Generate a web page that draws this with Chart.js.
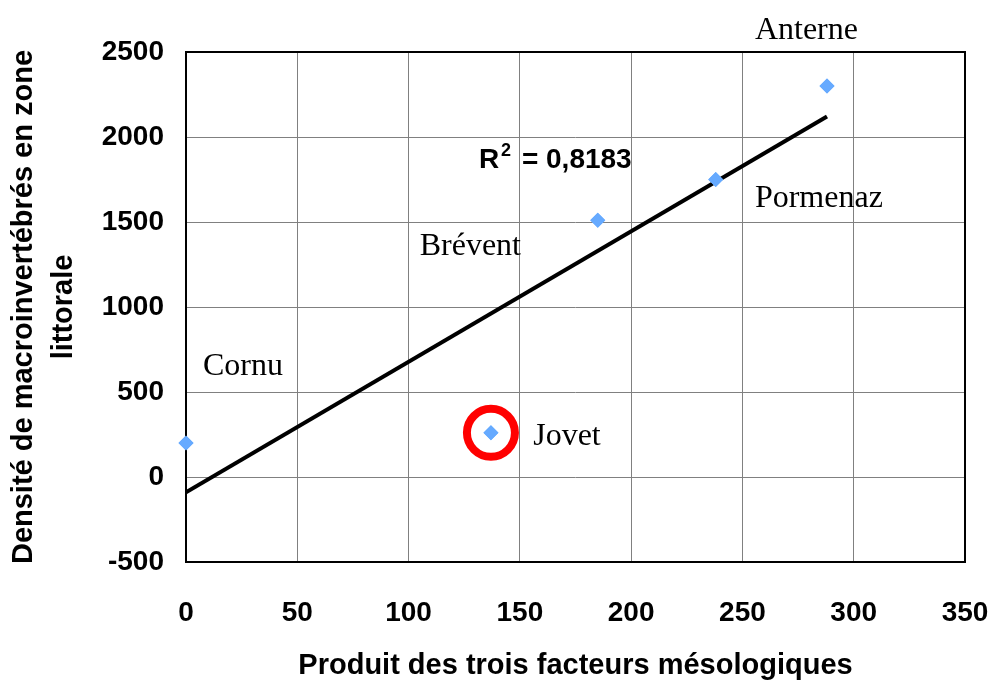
<!DOCTYPE html>
<html>
<head>
<meta charset="utf-8">
<script src="https://cdn.jsdelivr.net/npm/chart.js@4.4.0/dist/chart.umd.min.js"></script>
<style>
  html, body { margin: 0; padding: 0; background: #fff; }
  #wrap { width: 992px; height: 680px; }
</style>
</head>
<body>
<div id="wrap"><canvas id="chart" width="992" height="680"></canvas></div>
<script>
// Sites and measured values
const siteNames = ['Cornu', 'Jovet', 'Brévent', 'Pormenaz', 'Anterne'];
const produitValues = [0, 137, 185, 238, 288];
const densiteValues = [200, 260, 1510, 1750, 2300];

// linear trend line, end points
const trendX = [0, 288];
const trendY = [-90, 2120];
const r2Text = '0,8183';

const xTicks = [0, 50, 100, 150, 200, 250, 300, 350];
const yTicks = [-500, 0, 500, 1000, 1500, 2000, 2500];

// where each site label sits (data coords, left/baseline of text)
const labelSpots = {
    'Cornu':    [7.6, 600],
    'Jovet':    [156, 188],
    'Brévent':  [105, 1306],
    'Pormenaz': [255.6, 1588],
    'Anterne':  [255.6, 2576]
};
const highlighted = 'Jovet';

const pointData = produitValues.map((x, i) => ({ x: x, y: densiteValues[i] }));
const trendData = trendX.map((x, i) => ({ x: x, y: trendY[i] }));

const annotate = {
    id: 'annotate',
    afterDatasetsDraw(chart) {
        const ctx = chart.ctx;
        const xs = chart.scales.x, ys = chart.scales.y;
        const a = chart.chartArea;

        // black frame around the plot
        ctx.save();
        ctx.strokeStyle = '#000';
        ctx.lineWidth = 2;
        ctx.strokeRect(a.left, a.top, a.right - a.left, a.bottom - a.top);

        // site names
        ctx.fillStyle = '#000';
        ctx.font = '32px "Liberation Serif", "Times New Roman", serif';
        ctx.textBaseline = 'alphabetic';
        ctx.textAlign = 'left';
        siteNames.forEach(name => {
            const p = labelSpots[name];
            ctx.fillText(name, xs.getPixelForValue(p[0]), ys.getPixelForValue(p[1]));
        });

        // R² label
        let rx = xs.getPixelForValue(131.6), ry = ys.getPixelForValue(1818);
        ctx.font = 'bold 28px "Liberation Sans", Arial, sans-serif';
        ctx.fillText('R', rx, ry);
        rx += ctx.measureText('R').width + 2;
        ctx.font = 'bold 18px "Liberation Sans", Arial, sans-serif';
        ctx.fillText('2', rx, ry - 12);
        rx += ctx.measureText('2').width + 3;
        ctx.font = 'bold 28px "Liberation Sans", Arial, sans-serif';
        ctx.fillText(' = ' + r2Text, rx, ry);

        // red ring around the highlighted site
        const i = siteNames.indexOf(highlighted);
        ctx.beginPath();
        ctx.arc(xs.getPixelForValue(produitValues[i]), ys.getPixelForValue(densiteValues[i]), 24, 0, Math.PI * 2);
        ctx.strokeStyle = '#ff0000';
        ctx.lineWidth = 8;
        ctx.stroke();
        ctx.restore();

        // markers on top of the frame, unclipped
        chart.getDatasetMeta(0).data.forEach(pt => pt.draw(ctx));
    }
};

const tickFont = { family: '"Liberation Sans", Arial, sans-serif', size: 28, weight: 'bold' };

new Chart(document.getElementById('chart'), {
    type: 'scatter',
    data: {
        datasets: [
            {
                label: 'Densité',
                data: pointData,
                pointStyle: 'rectRot',
                pointRadius: 7.5,
                pointHoverRadius: 7.5,
                backgroundColor: '#66aaff',
                borderColor: '#66aaff',
                borderWidth: 0,
                clip: false,
                order: 1
            },
            {
                label: 'Tendance',
                data: trendData,
                type: 'line',
                showLine: true,
                borderColor: '#000',
                borderWidth: 4,
                pointRadius: 0,
                fill: false,
                order: 2
            }
        ]
    },
    options: {
        responsive: false,
        animation: false,
        layout: { padding: { top: 52, right: 27, left: 0, bottom: 0 } },
        plugins: { legend: { display: false }, tooltip: { enabled: false } },
        scales: {
            x: {
                type: 'linear',
                min: 0, max: 350,
                afterBuildTicks: s => { s.ticks = xTicks.map(v => ({ value: v })); },
                afterFit: s => { s.height = 118; s.paddingLeft = 0; s.paddingRight = 0; },
                ticks: { color: '#000', font: tickFont, padding: 34, maxRotation: 0, callback: v => String(v) },
                grid: { color: '#808080', lineWidth: 1, drawTicks: false },
                border: { display: false },
                title: {
                    display: true,
                    text: 'Produit des trois facteurs mésologiques',
                    color: '#000',
                    font: { family: '"Liberation Sans", Arial, sans-serif', size: 29, weight: 'bold', lineHeight: 1 },
                    padding: { top: 0, bottom: 0 }
                }
            },
            y: {
                type: 'linear',
                min: -500, max: 2500,
                afterBuildTicks: s => { s.ticks = yTicks.map(v => ({ value: v })); },
                afterFit: s => { s.width = 186; s.paddingTop = 0; s.paddingBottom = 0; },
                ticks: { color: '#000', font: tickFont, padding: 22, callback: v => String(v) },
                grid: { color: '#808080', lineWidth: 1, drawTicks: false },
                border: { display: false },
                title: {
                    display: true,
                    text: ['Densité de macroinvertébrés en zone', 'littorale'],
                    color: '#000',
                    font: { family: '"Liberation Sans", Arial, sans-serif', size: 29, weight: 'bold', lineHeight: 1.38 },
                    padding: { top: 4, bottom: 0 }
                }
            }
        }
    },
    plugins: [annotate]
});
</script>
</body>
</html>
